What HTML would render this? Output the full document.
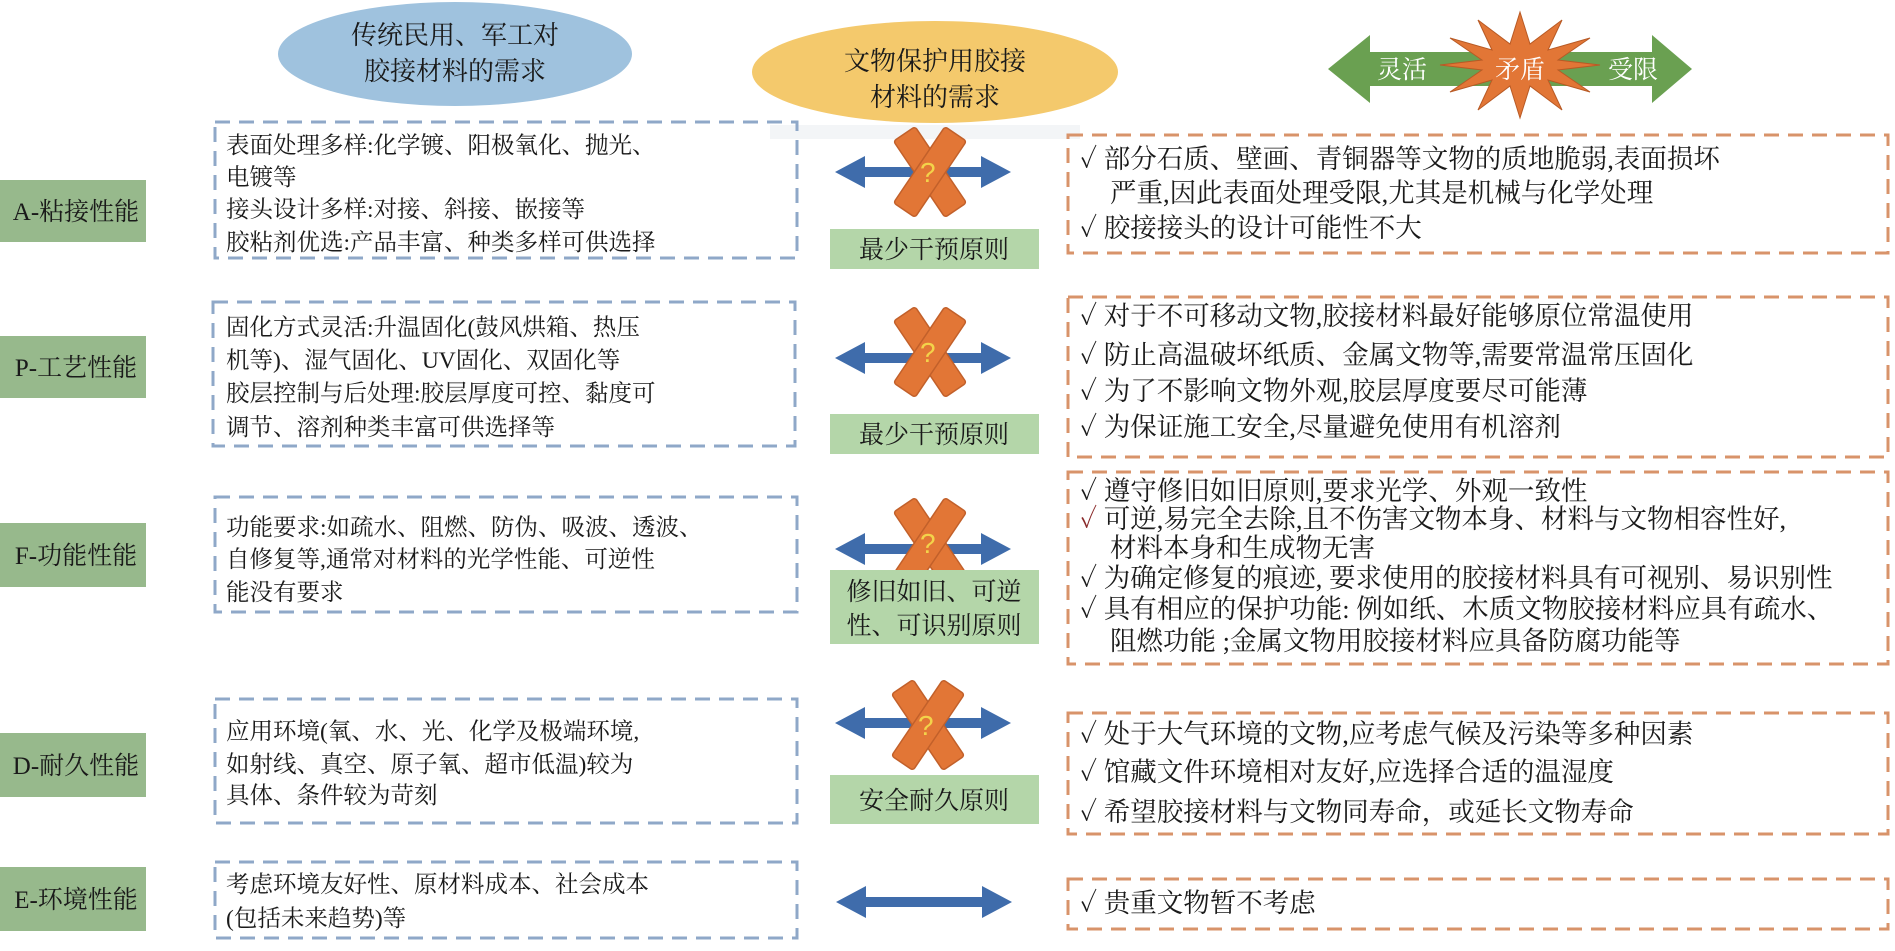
<!DOCTYPE html>
<html><head><meta charset="utf-8"><style>
html,body{margin:0;padding:0;background:#fff;}
svg{display:block;}
text{font-family:"Liberation Serif","Noto Serif CJK SC",serif;fill:#1a1a1a;}
.l{font-size:23.5px;}
.r{font-size:26.5px;}
.c{font-size:25px;text-anchor:middle;}
</style></head><body>
<svg width="1895" height="951" viewBox="0 0 1895 951" xmlns="http://www.w3.org/2000/svg">
<defs>
<g id="dbl"><path d="M-88 0 L-58 -16 L-58 -5 L58 -5 L58 -16 L88 0 L58 16 L58 5 L-58 5 L-58 16 Z" fill="#3f6cab"/></g>
<g id="xx">
<rect x="-13" y="-46" width="26" height="92" rx="3" fill="#e27636" stroke="#c2602a" stroke-width="1.5" transform="rotate(-34)"/>
<rect x="-13" y="-46" width="26" height="92" rx="3" fill="#e27636" stroke="#c2602a" stroke-width="1.5" transform="rotate(34)"/>
<text x="-10" y="10" style="font-size:28px;fill:#f3d34a;font-family:'Liberation Sans',sans-serif">?</text>
</g>
</defs>

<ellipse cx="455" cy="54" rx="177" ry="52" fill="#9fc2de"/>
<text class="c" x="455" y="44" style="font-size:26px">传统民用、军工对</text>
<text class="c" x="455" y="80" style="font-size:26px">胶接材料的需求</text>
<rect x="770" y="125" width="310" height="14" fill="#eef1f4" opacity="0.7"/>
<ellipse cx="935" cy="72" rx="183" ry="51" fill="#f4c96c"/>
<text class="c" x="935" y="70" style="font-size:26px">文物保护用胶接</text>
<text class="c" x="935" y="106" style="font-size:26px">材料的需求</text>

<path d="M1328 69 L1370 35 L1370 52 L1652 52 L1652 35 L1692 69 L1652 103 L1652 86 L1370 86 L1370 103 Z" fill="#6aa051"/>
<polygon points="1600,65 1558,70 1590,92 1548,80 1562,110 1530,86 1520,118 1510,86 1478,110 1492,80 1450,92 1482,70 1440,65 1482,60 1450,38 1492,50 1478,20 1510,44 1520,12 1530,44 1562,20 1548,50 1590,38 1558,60" fill="#e27636" stroke="#b85a25" stroke-width="1"/>
<text x="1377" y="78" style="font-size:25px;fill:#fff">灵活</text>
<text x="1495" y="78" style="font-size:25px;fill:#fff">矛盾</text>
<text x="1608" y="78" style="font-size:25px;fill:#fff">受限</text>

<g fill="#97b98c">
<rect x="0" y="180" width="146" height="62"/>
<rect x="0" y="336" width="146" height="62"/>
<rect x="0" y="523" width="146" height="64"/>
<rect x="0" y="733" width="146" height="64"/>
<rect x="0" y="867" width="146" height="64"/>
</g>
<text class="c" x="76" y="220" style="font-size:25px">A-粘接性能</text>
<text class="c" x="76" y="376" style="font-size:25px">P-工艺性能</text>
<text class="c" x="76" y="564" style="font-size:25px">F-功能性能</text>
<text class="c" x="76" y="774" style="font-size:25px">D-耐久性能</text>
<text class="c" x="76" y="908" style="font-size:25px">E-环境性能</text>

<g fill="none" stroke="#8fa8c8" stroke-width="3" stroke-dasharray="15,9">
<rect x="215" y="122" width="582" height="136"/>
<rect x="213" y="302" width="582" height="144"/>
<rect x="215" y="497" width="582" height="115"/>
<rect x="215" y="699" width="582" height="124"/>
<rect x="215" y="862" width="582" height="76"/>
</g>
<g>
<text class="l" x="226" y="153">表面处理多样:化学镀、阳极氧化、抛光、</text>
<text class="l" x="226" y="185">电镀等</text>
<text class="l" x="226" y="217">接头设计多样:对接、斜接、嵌接等</text>
<text class="l" x="226" y="250">胶粘剂优选:产品丰富、种类多样可供选择</text>
<text class="l" x="226" y="335">固化方式灵活:升温固化(鼓风烘箱、热压</text>
<text class="l" x="226" y="368">机等)、湿气固化、UV固化、双固化等</text>
<text class="l" x="226" y="401">胶层控制与后处理:胶层厚度可控、黏度可</text>
<text class="l" x="226" y="435">调节、溶剂种类丰富可供选择等</text>
<text class="l" x="226" y="535">功能要求:如疏水、阻燃、防伪、吸波、透波、</text>
<text class="l" x="226" y="567">自修复等,通常对材料的光学性能、可逆性</text>
<text class="l" x="226" y="600">能没有要求</text>
<text class="l" x="226" y="739">应用环境(氧、水、光、化学及极端环境,</text>
<text class="l" x="226" y="772">如射线、真空、原子氧、超市低温)较为</text>
<text class="l" x="226" y="803">具体、条件较为苛刻</text>
<text class="l" x="226" y="892">考虑环境友好性、原材料成本、社会成本</text>
<text class="l" x="226" y="926">(包括未来趋势)等</text>
</g>

<use href="#dbl" x="923" y="172"/>
<use href="#xx" x="930" y="172"/>
<use href="#dbl" x="923" y="358"/>
<use href="#xx" x="930" y="352"/>
<use href="#dbl" x="923" y="549"/>
<use href="#xx" x="930" y="543"/>
<use href="#dbl" x="923" y="723"/>
<use href="#xx" x="928" y="725"/>
<use href="#dbl" x="924" y="902"/>

<g fill="#b4d6a9">
<rect x="830" y="229" width="209" height="40"/>
<rect x="830" y="414" width="209" height="40"/>
<rect x="830" y="570" width="209" height="74"/>
<rect x="830" y="775" width="209" height="49"/>
</g>
<text class="c" x="934" y="258">最少干预原则</text>
<text class="c" x="934" y="443">最少干预原则</text>
<text class="c" x="934" y="600">修旧如旧、可逆</text>
<text class="c" x="934" y="634">性、可识别原则</text>
<text class="c" x="934" y="809">安全耐久原则</text>

<g fill="none" stroke="#d8936a" stroke-width="3" stroke-dasharray="15,9">
<rect x="1068" y="135" width="820" height="118"/>
<rect x="1068" y="297" width="820" height="160"/>
<rect x="1068" y="472" width="820" height="192"/>
<rect x="1068" y="713" width="820" height="121"/>
<rect x="1068" y="879" width="820" height="50"/>
</g>
<g>
<text class="r" x="1080" y="168">✓ 部分石质、壁画、青铜器等文物的质地脆弱,表面损坏</text>
<text class="r" x="1110" y="202">严重,因此表面处理受限,尤其是机械与化学处理</text>
<text class="r" x="1080" y="237">✓ 胶接接头的设计可能性不大</text>
<text class="r" x="1080" y="325">✓ 对于不可移动文物,胶接材料最好能够原位常温使用</text>
<text class="r" x="1080" y="364">✓ 防止高温破坏纸质、金属文物等,需要常温常压固化</text>
<text class="r" x="1080" y="400">✓ 为了不影响文物外观,胶层厚度要尽可能薄</text>
<text class="r" x="1080" y="436">✓ 为保证施工安全,尽量避免使用有机溶剂</text>
<text class="r" x="1080" y="500">✓ 遵守修旧如旧原则,要求光学、外观一致性</text>
<text class="r" x="1080" y="528"><tspan style="fill:#8a2a2a">✓</tspan> 可逆,易完全去除,且不伤害文物本身、材料与文物相容性好,</text>
<text class="r" x="1110" y="557">材料本身和生成物无害</text>
<text class="r" x="1080" y="587">✓ 为确定修复的痕迹, 要求使用的胶接材料具有可视别、易识别性</text>
<text class="r" x="1080" y="618">✓ 具有相应的保护功能: 例如纸、木质文物胶接材料应具有疏水、</text>
<text class="r" x="1110" y="650">阻燃功能 ;金属文物用胶接材料应具备防腐功能等</text>
<text class="r" x="1080" y="743">✓ 处于大气环境的文物,应考虑气候及污染等多种因素</text>
<text class="r" x="1080" y="781">✓ 馆藏文件环境相对友好,应选择合适的温湿度</text>
<text class="r" x="1080" y="821">✓ 希望胶接材料与文物同寿命，或延长文物寿命</text>
<text class="r" x="1080" y="912">✓ 贵重文物暂不考虑</text>
</g>
</svg>
</body></html>
